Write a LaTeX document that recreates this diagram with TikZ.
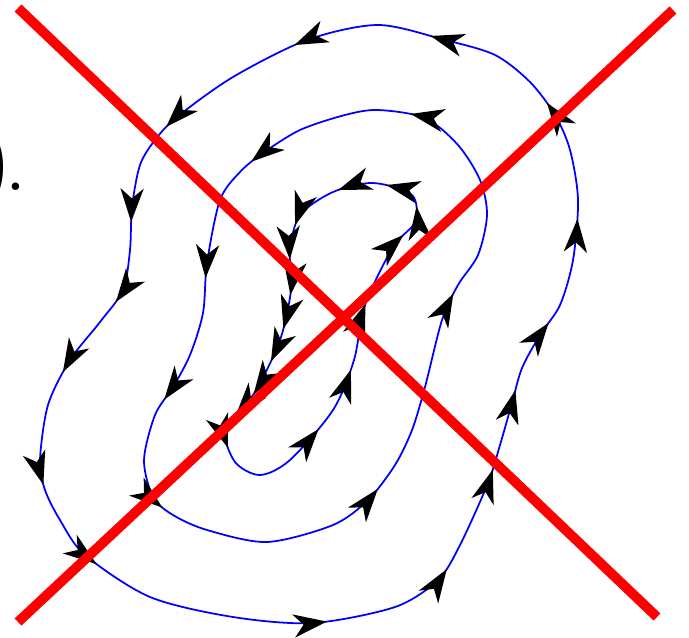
\documentclass[tikz,border=0pt]{standalone}
\usepackage{tikz}
\usetikzlibrary{arrows.meta,decorations.markings}

\tikzset{
  flowtip/.tip={Stealth[length=9.5pt,width=6.6pt,inset=2.8pt,color=black]},
  /pgf/decoration/tip at/.style={mark=at position #1 with {\arrow{flowtip}}},
  orbit/.style={blue,line width=0.5pt,postaction={decorate}},
  cross/.style={red,line width=2.8pt},
}

\begin{document}
\begin{tikzpicture}[x=0.01cm,y=-0.01cm]
    \useasboundingbox (0,0) rectangle (689,637);
    % leftover of the sentence before the figure
    \node[font=\fontsize{26}{30}\selectfont,anchor=base west,inner sep=0pt] (stop) at (-21,191) {)\kern-2.3pt.};
    % outer orbit
    \draw[orbit,decoration={markings,tip at/.list={0.048,0.133,0.191,0.237,0.286,0.351,0.405,0.540,0.615,0.676,0.722,0.764,0.825,0.893,0.970}}]
      plot[smooth cycle] coordinates {(445,40) (378,25) (307,40) (233,77) (177,117) (155,140) (140,165)
        (132,207) (130,250) (123,290) (100,322) (70,360) (48,405) (40,460) (45,490) (60,520)
        (85,555) (150,597) (233,617) (313,623) (395,607) (438,580) (460,545) (488,483) (500,445)
        (512,403) (522,368) (540,335) (560,305) (573,260) (578,200) (570,150) (555,115) (530,82)
        (495,55)};
    % middle orbit
    \draw[orbit,decoration={markings,tip at/.list={0.114,0.220,0.327,0.423,0.618,0.791,0.973}}]
      plot[smooth cycle] coordinates {(425,118) (378,110) (345,115) (300,130) (263,153) (240,172) (220,200)
        (207,263) (203,313) (190,355) (173,387) (155,415) (144,460) (153,497) (173,515) (207,530)
        (267,542) (333,525) (368,500) (395,465) (412,430) (425,387) (442,320) (458,285) (478,255)
        (487,215) (480,180) (458,145)};
    % inner orbit
    \draw[orbit,decoration={markings,tip at/.list={0.047,0.123,0.169,0.216,0.262,0.308,0.357,0.394,0.441,0.601,0.691,0.780,0.885,0.929,0.982}}]
      plot[smooth cycle] coordinates {(412,195) (373,183) (333,192) (300,215) (290,250) (291,290) (280,340)
        (255,392) (226,430) (235,462) (260,475) (290,460) (333,410) (354,360) (365,305) (393,247)
        (415,222)};
    % the cross
    \coordinate (NW) at (18,8);
    \coordinate (SE) at (657,617);
    \coordinate (NE) at (673,10);
    \coordinate (SW) at (18,622);
    \draw[cross] (NW) -- (SE);
    \draw[cross] (NE) -- (SW);
\end{tikzpicture}
\end{document}
